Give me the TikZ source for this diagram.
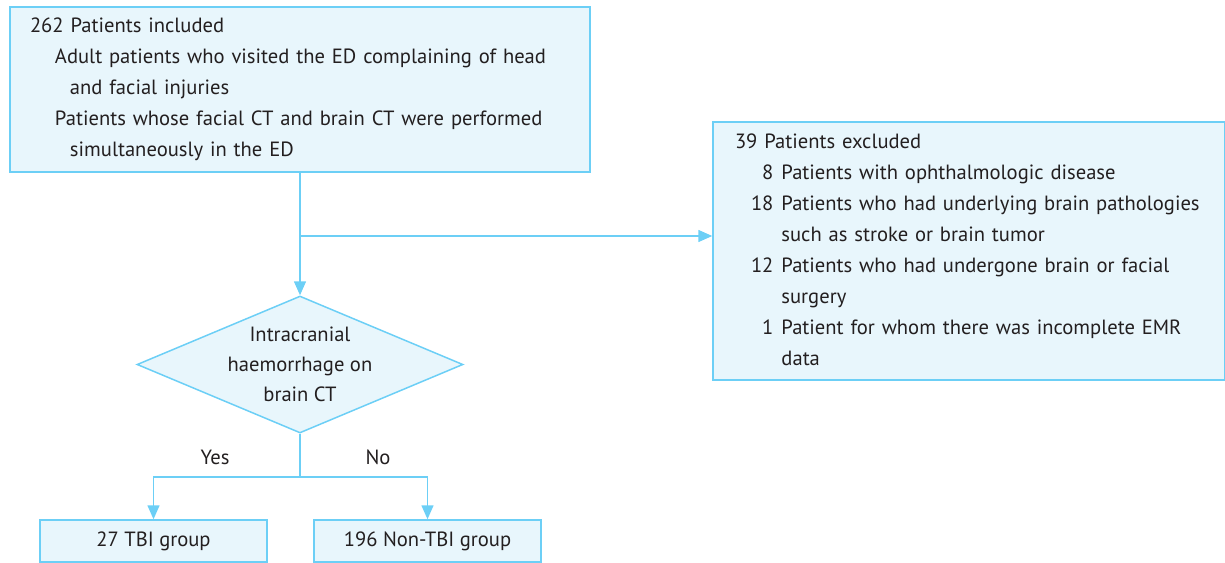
\documentclass[tikz,border=0pt]{standalone}
\usepackage{fontspec}
\setmainfont{PT Sans}
\usepackage{tikz}
\usetikzlibrary{shapes.geometric,arrows.meta,positioning,calc}

\definecolor{flowline}{HTML}{6CCFF6}
\definecolor{flowfill}{HTML}{E8F6FC}
\definecolor{flowtext}{HTML}{231F20}

\begin{document}
\begin{tikzpicture}[x=0.5pt, y=-0.5pt,
        box/.style={rectangle, draw=flowline, line width=0.75pt, fill=flowfill, text=flowtext,
            font=\fontsize{10.3}{15.5}\selectfont},
        listbox/.style={box, align=left, inner ysep=0pt},
        decision/.style={diamond, draw=flowline, line width=0.75pt, fill=flowfill, text=flowtext,
            aspect=2.38, inner sep=0pt, align=center, minimum width=163pt, minimum height=68.5pt,
            font=\fontsize{10.3}{15}\selectfont},
        arrow/.style={-{Triangle[length=7pt,width=6pt]}, draw=flowline, line width=0.75pt},
        line/.style={draw=flowline, line width=0.75pt},
        lbl/.style={text=flowtext, font=\fontsize{10.3}{15}\selectfont}]

    \useasboundingbox (0,0) rectangle (1225,562);

    % boxes
    \node[listbox, text width=270pt, inner xsep=10pt, minimum height=82.5pt] (incl) at (300,89.5)
        {262 Patients included\\
         \hspace*{12.5pt}Adult patients who visited the ED complaining of head\\
         \hspace*{20pt}and facial injuries\\
         \hspace*{12.5pt}Patients whose facial CT and brain CT were performed\\
         \hspace*{20pt}simultaneously in the ED};

    \node[listbox, text width=234pt, inner xsep=11pt, minimum height=129pt] (excl) at (969,251)
        {\begin{tabular}{@{\hspace{8pt}}r@{\hspace{4pt}}l@{}}
         \multicolumn{2}{@{}l@{}}{39 Patients excluded}\\
         8 & Patients with ophthalmologic disease\\
         18 & Patients who had underlying brain pathologies\\
            & such as stroke or brain tumor\\
         12 & Patients who had undergone brain or facial\\
            & surgery\\
         1 & Patient for whom there was incomplete EMR\\
           & data
         \end{tabular}};

    \node[decision] (ich) at (300,364.5) {Intracranial\\haemorrhage on\\brain CT};

    \node[box, minimum width=113.5pt, minimum height=21pt] (tbi) at (153.5,541) {27 TBI group};
    \node[box, minimum width=113.5pt, minimum height=21pt] (ntbi) at (427.5,541) {196 Non-TBI group};

    % connectors
    \coordinate (split) at (300,236);
    \coordinate (fork) at (300,477);
    \draw[arrow] (incl.south) -- (ich.north);
    \draw[arrow] (split) -- (split -| excl.west);
    \draw[line] (ich.south) -- (fork);
    \draw[arrow] (fork) -| (tbi.north);
    \draw[arrow] (fork) -| (ntbi.north);

    \node[lbl] (yes) at (215,457) {Yes};
    \node[lbl] (no) at (378,457) {No};

\end{tikzpicture}
\end{document}
